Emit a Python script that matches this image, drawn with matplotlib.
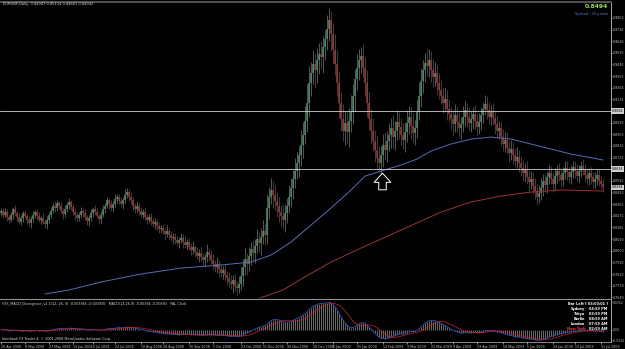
import numpy as np
import pandas as pd
import matplotlib
matplotlib.use("Agg")
import matplotlib.pyplot as plt
from matplotlib.path import Path

# EURGBP daily (approx.)
first_open = 0.8290
closes = [
    0.8310, 0.8280, 0.8300, 0.8260, 0.8240, 0.8275, 0.8320, 0.8295, 0.8265, 0.8225,
    0.8250, 0.8290, 0.8270, 0.8235, 0.8215, 0.8245, 0.8280, 0.8300, 0.8270, 0.8240,
    0.8255, 0.8225, 0.8205, 0.8240, 0.8280, 0.8310, 0.8345, 0.8330, 0.8370, 0.8350,
    0.8310, 0.8285, 0.8320, 0.8355, 0.8380, 0.8340, 0.8300, 0.8275, 0.8250, 0.8280,
    0.8310, 0.8290, 0.8260, 0.8230, 0.8255, 0.8290, 0.8325, 0.8300, 0.8270, 0.8245,
    0.8280, 0.8320, 0.8350, 0.8390, 0.8365, 0.8330, 0.8360, 0.8400, 0.8420, 0.8385,
    0.8360, 0.8395, 0.8430, 0.8455, 0.8420, 0.8390, 0.8350, 0.8320, 0.8345, 0.8310,
    0.8280, 0.8300, 0.8265, 0.8240, 0.8260,
    0.8230, 0.8205, 0.8225, 0.8190, 0.8165, 0.8180, 0.8150, 0.8130, 0.8155, 0.8120,
    0.8095, 0.8110, 0.8080, 0.8060, 0.8085,
    0.8100, 0.8070, 0.8045, 0.8065, 0.8030, 0.8005, 0.8025, 0.7990, 0.7960, 0.7985,
    0.7950, 0.7925, 0.7950, 0.7990, 0.7965,
    0.7930, 0.7900, 0.7870, 0.7895, 0.7860, 0.7830, 0.7850, 0.7815, 0.7790, 0.7760,
    0.7740, 0.7770, 0.7730, 0.7710, 0.7745,
    0.7800, 0.7870, 0.7935, 0.7900, 0.7960, 0.8010, 0.7985, 0.8040, 0.8090, 0.8060,
    0.8110, 0.8150, 0.8120, 0.8330, 0.8420,
    0.8470, 0.8430, 0.8385, 0.8350, 0.8300, 0.8270, 0.8240, 0.8290, 0.8350, 0.8420,
    0.8490, 0.8560, 0.8620, 0.8680, 0.8740,
    0.8820, 0.8900, 0.9010, 0.9150, 0.9300, 0.9380, 0.9450, 0.9400, 0.9480, 0.9530,
    0.9500, 0.9580, 0.9640, 0.9720, 0.9790,
    0.9680, 0.9560, 0.9450, 0.9300, 0.9150, 0.9020, 0.8930, 0.8990, 0.8920, 0.9010,
    0.9080, 0.9200, 0.9330, 0.9420, 0.9480,
    0.9510, 0.9420, 0.9300, 0.9150, 0.9020, 0.8930, 0.8850, 0.8780, 0.8720, 0.8680,
    0.8740, 0.8820, 0.8780, 0.8850, 0.8900,
    0.8950, 0.8880, 0.8930, 0.9000, 0.8960, 0.8900, 0.8860, 0.8920, 0.8990, 0.9040,
    0.8970, 0.8910, 0.8950, 0.9080, 0.9200,
    0.9320, 0.9400, 0.9460, 0.9430, 0.9480, 0.9400, 0.9350, 0.9380, 0.9300, 0.9250,
    0.9200, 0.9150, 0.9180, 0.9100, 0.9060,
    0.9020, 0.8980, 0.9050, 0.9000, 0.8950, 0.8980, 0.9040, 0.9090, 0.9040, 0.8990,
    0.9020, 0.9060, 0.9010, 0.8960, 0.9000,
    0.9050, 0.9100, 0.9140, 0.9090, 0.9040, 0.9080, 0.9030, 0.8980, 0.8930, 0.8950,
    0.8880, 0.8830, 0.8860, 0.8800, 0.8760,
    0.8790, 0.8740, 0.8700, 0.8730, 0.8680, 0.8640, 0.8600, 0.8630, 0.8570, 0.8530,
    0.8560, 0.8500, 0.8460, 0.8420, 0.8450,
    0.8490, 0.8540, 0.8510, 0.8570, 0.8600, 0.8560, 0.8520, 0.8580, 0.8620, 0.8590,
    0.8550, 0.8600, 0.8640, 0.8610, 0.8570,
    0.8610, 0.8650, 0.8620, 0.8580, 0.8620, 0.8660, 0.8630, 0.8590, 0.8560, 0.8600,
    0.8570, 0.8530, 0.8560, 0.8590, 0.8540, 0.8520, 0.8494,
]

# wick length above/below the body, in pips
wick_up = [
    25, 18, 30, 22, 15, 28, 20, 35, 17, 24, 30, 19, 26, 14, 32, 21, 27, 18, 23, 29,
    16, 34, 22, 27, 19, 31, 24, 38, 21, 17, 29, 25, 33, 20, 28, 15, 26, 30, 22, 19,
    27, 21, 35, 18, 24, 30, 16, 28, 33, 20, 25, 38, 22, 29, 17, 31, 26, 40, 23, 19,
    30, 24, 45, 28, 20, 33, 26, 18, 37, 22, 29, 25, 31, 19, 27, 34, 21, 28, 24, 36,
    22, 30, 26, 41, 19, 33, 27, 24, 38, 21, 35, 29, 44, 25, 32, 28, 50, 23, 37, 30,
    45, 34, 28, 60, 31, 38, 42, 29, 55, 36, 40, 33, 48, 30, 44, 52, 38, 46, 35, 58,
    70, 62, 85, 50, 66, 58, 74, 48, 80, 55, 64, 90, 60, 110, 75, 95, 68, 80, 72, 65,
    58, 84, 70, 62, 90, 78, 66, 100, 85, 72, 120, 95, 110, 140, 130, 88, 105, 76, 92, 80,
    98, 86, 74, 110, 95, 70, 88, 120, 105, 92, 80, 115, 96, 84, 100, 125, 90, 78, 108, 86,
    72, 94, 80, 105, 88, 76, 98, 84, 110, 92, 70, 86, 100, 78, 94, 82, 105, 74, 90, 80,
    68, 92, 78, 100, 84, 72, 95, 66, 88, 110, 96, 80, 74, 102, 86, 70, 90, 82, 64, 78,
    72, 60, 84, 66, 78, 58, 70, 86, 62, 74, 56, 80, 68, 60, 76, 64, 52, 70, 58, 66,
    62, 54, 72, 58, 66, 50, 64, 56, 70, 60, 52, 68, 58, 62, 48, 66, 56, 60, 72, 54,
    58, 64, 50, 70, 56, 62, 48, 66, 54, 60, 72, 52, 58, 46, 64, 56, 50, 62, 44, 58,
    52, 46, 60, 54, 42, 58, 50, 44, 56, 48, 40, 54, 46, 52, 38, 50, 44, 48, 42, 46,
    40, 36,
]
wick_dn = [
    20, 27, 16, 31, 24, 18, 29, 22, 34, 19, 25, 30, 17, 28, 23, 35, 19, 26, 31, 21,
    30, 18, 26, 35, 22, 28, 17, 32, 25, 29, 20, 37, 23, 18, 30, 27, 21, 34, 24, 16,
    23, 32, 19, 28, 36, 21, 30, 25, 18, 34, 27, 22, 31, 17, 38, 24, 29, 20, 33, 26,
    21, 35, 27, 19, 31, 24, 40, 28, 22, 33, 18, 30, 26, 36, 23, 29, 20, 34, 27, 25,
    31, 24, 38, 26, 33, 20, 42, 29, 25, 36, 28, 47, 27, 34, 22, 40, 30, 35, 26, 48,
    33, 40, 52, 36, 45, 30, 50, 38, 44, 62, 35, 48, 40, 56, 42, 38, 65, 44, 50, 40,
    48, 75, 60, 88, 54, 70, 62, 80, 58, 68, 92, 56, 74, 65, 85, 60, 100, 72, 90, 78,
    86, 68, 94, 76, 60, 82, 90, 72, 64, 110, 80, 98, 70, 88, 115, 100, 84, 130, 96, 108,
    90, 118, 102, 84, 96, 130, 110, 88, 100, 122, 94, 80, 106, 92, 118, 86, 100, 112, 84, 96,
    104, 82, 96, 110, 86, 100, 78, 92, 84, 70, 98, 88, 76, 94, 80, 102, 86, 96, 74, 90,
    82, 70, 96, 80, 88, 104, 74, 92, 78, 66, 84, 100, 90, 72, 80, 94, 76, 68, 88, 74,
    60, 78, 66, 84, 58, 72, 80, 62, 76, 68, 82, 58, 70, 78, 56, 68, 74, 62, 70, 54,
    66, 58, 50, 68, 56, 62, 54, 72, 52, 64, 70, 56, 62, 50, 68, 58, 64, 52, 60, 70,
    54, 60, 66, 52, 64, 50, 62, 56, 68, 48, 58, 64, 52, 60, 54, 46, 62, 50, 58, 48,
    56, 50, 44, 58, 48, 54, 46, 52, 42, 56, 50, 44, 54, 40, 48, 52, 42, 46, 50, 38,
    44, 40,
]

# the two moving averages on the chart (bar index, price)
ma_blue_bar = [22, 34, 50, 70, 90, 110, 125, 135, 145, 155, 165, 175, 182, 190,
               200, 208, 215, 225, 235, 245, 255, 265, 275, 285, 301]
ma_blue = [0.7664, 0.7695, 0.7757, 0.7819, 0.7865, 0.7889, 0.7912, 0.7966, 0.8067,
           0.8199, 0.8331, 0.8471, 0.8579, 0.8618, 0.8665, 0.8711, 0.8773, 0.8828,
           0.8866, 0.8882, 0.8866, 0.8828, 0.8789, 0.8750, 0.8704]
ma_red_bar = [128, 141, 150, 165, 180, 200, 220, 235, 250, 265, 280, 301]
ma_red = [0.7625, 0.7695, 0.7780, 0.7912, 0.8021, 0.8160, 0.8300, 0.8378,
          0.8424, 0.8455, 0.8471, 0.8463]

hlines = [0.9084, 0.8634]
last_price = 0.8494
arrow_bar = 190.5
arrow_price = 0.8541

price_ticks = [0.7640, 0.7729, 0.7819, 0.7910, 0.8000, 0.8090, 0.8181, 0.8271,
               0.8361, 0.8452, 0.8542, 0.8632, 0.8722, 0.8813, 0.8903, 0.8993,
               0.9084, 0.9174, 0.9264, 0.9355, 0.9445, 0.9535, 0.9626, 0.9716, 0.9806]

date_bars = [0, 12, 24, 36, 46, 57, 70, 81, 94, 106, 120, 131, 143, 156, 166,
             178, 191, 203, 215, 226, 238, 251, 263, 276, 287, 300]
date_labels = ["20 Apr 2008", "8 May 2008", "27 May 2008", "13 Jun 2008", "2 Jul 2008",
               "22 Jul 2008", "10 Aug 2008", "28 Aug 2008", "16 Sep 2008", "5 Oct 2008",
               "23 Oct 2008", "11 Nov 2008", "30 Nov 2008", "18 Dec 2008", "6 Jan 2009",
               "25 Jan 2009", "12 Feb 2009", "3 Mar 2009", "22 Mar 2009", "9 Apr 2009",
               "29 Apr 2009", "18 May 2009", "5 Jun 2009", "24 Jun 2009", "13 Jul 2009",
               "31 Jul 2009"]

clock_names = ["Sydney", "Tokyo", "Berlin", "London", "New York"]
clock_times = ["04:59 PM", "03:59 PM", "08:59 AM", "07:59 AM", "02:59 AM"]

closes = np.array(closes)
opens = np.concatenate([[first_open], closes[:-1]])
highs = np.maximum(opens, closes) + np.array(wick_up) * 0.0001
lows = np.minimum(opens, closes) - np.array(wick_dn) * 0.0001
bars = np.arange(len(closes))

s = pd.Series(closes)
macd = (s.ewm(span=12, adjust=False).mean() - s.ewm(span=26, adjust=False).mean()).values
signal = pd.Series(macd).rolling(9, min_periods=1).mean().values

W, H = 625, 349
def fx(x):
    return x / W
def fy(y):
    return 1 - y / H

fig = plt.figure(figsize=(6.25, 3.49), dpi=100, facecolor="black")
ax = fig.add_axes([0, fy(298), fx(611), fy(2) - fy(298)], facecolor="black")
sub = fig.add_axes([0, fy(342), fx(611), fy(299) - fy(342)], facecolor="black", sharex=ax)

grey = "#c0c0c0"
bull = "#4a9468"
bear = "#a83636"

up = closes >= opens
dn = ~up
ax.vlines(bars[up], lows[up], highs[up], color=bull, lw=0.5)
ax.vlines(bars[up], opens[up], closes[up], color=bull, lw=1.1)
ax.vlines(bars[dn], lows[dn], highs[dn], color=bear, lw=0.5)
ax.vlines(bars[dn], opens[dn], closes[dn], color=bear, lw=1.1)

ax.plot(ma_blue_bar, ma_blue, color="#5a6cb4", lw=0.7)
ax.plot(ma_red_bar, ma_red, color="#a03232", lw=0.7)

for h in hlines:
    ax.axhline(h, color="#d0d0d0", lw=0.6)

# hollow up arrow object
arrow = Path([(0, 1), (1, -0.1), (0.45, -0.1), (0.45, -1), (-0.45, -1),
              (-0.45, -0.1), (-1, -0.1), (0, 1)])
ax.plot([arrow_bar], [arrow_price], marker=arrow, markersize=12,
        markerfacecolor="black", markeredgecolor="white", markeredgewidth=0.7)

ax.set_xlim(-0.5, 305)
ax.set_ylim(0.7633, 0.9930)
ax.yaxis.tick_right()
ax.set_yticks(price_ticks)
# labels hidden under the highlighted boxes are left empty
boxed = hlines + [last_price]
ax.set_yticklabels(["" if min(abs(t - b) for b in boxed) < 0.0005 else f"{t:.4f}"
                    for t in price_ticks])
ax.tick_params(axis="y", colors=grey, labelsize=2.3, length=1, width=0.5, pad=0.5)
ax.tick_params(axis="x", bottom=False, labelbottom=False)
for side in ["left", "bottom"]:
    ax.spines[side].set_visible(False)
ax.spines["right"].set_color(grey)
ax.spines["right"].set_linewidth(0.6)
ax.spines["top"].set_color("#505050")
ax.spines["top"].set_linewidth(1.5)

trans = ax.get_yaxis_transform()
for v in boxed:
    ax.text(1.001, v, f"{v:.4f}", transform=trans, fontsize=2.3, color="black",
            va="center", ha="left", clip_on=False,
            bbox=dict(facecolor="#d0d0d0", edgecolor="none", pad=0.4))

# MACD window
sub.vlines(bars, 0, macd, color="#7d9bd0", lw=0.5)
sub.plot(bars, macd, color="#3050b8", lw=0.6)
sub.plot(bars, signal, color="#d02020", lw=0.5)
top = macd.max() * 1.12
bottom = min(macd.min() * 1.15, -0.4 * top)
sub.set_ylim(bottom, top)
sub.yaxis.tick_right()
sub.set_yticks([macd.max(), 0, macd.min()])
sub.set_yticklabels([f"{macd.max():.4f}", "0.00", f"{macd.min():.4f}"])
sub.tick_params(axis="y", colors=grey, labelsize=2.2, length=1, width=0.5, pad=0.5)
sub.set_xticks(date_bars)
sub.set_xticklabels(date_labels)
sub.tick_params(axis="x", colors=grey, labelsize=2.3, length=1.5, width=0.5, pad=0.5)
for lab in sub.get_xticklabels():
    lab.set_horizontalalignment("left")
sub.spines["left"].set_visible(False)
sub.spines["right"].set_color(grey)
sub.spines["right"].set_linewidth(0.6)
sub.spines["top"].set_color("#909090")
sub.spines["top"].set_linewidth(0.8)
sub.spines["bottom"].set_color(grey)
sub.spines["bottom"].set_linewidth(0.5)

# texts
fig.text(fx(3), fy(4.5), "EURGBP,Daily  0.84947 0.85114 0.84687 0.84942",
         fontsize=2.6, color="#d8d8d8", va="center")
fig.text(fx(608), fy(6.5), f"{last_price:.4f}", fontsize=4.3, color="#88f030",
         fontweight="bold", ha="right", va="center")
fig.text(fx(608), fy(13.5), "Spread : 32 points", fontsize=2.6, color="#5a7ccc",
         ha="right", va="center")
fig.text(fx(2), fy(304), "FXS_MACD_Divergence_v1.1(12, 26, 9) -0.003945 -0.003930   "
         "MACD(12,26,9) -0.00394 -0.00393   PAL Clock",
         fontsize=2.4, color="#d8d8d8", va="center")
fig.text(fx(2), fy(339), "Interbank FX Trader 4, \u00a9 2001-2008 MetaQuotes Software Corp.",
         fontsize=2.4, color="#d8d8d8", va="center")
fig.text(fx(608), fy(304), "Bar Left [ 03:00:01 ]", fontsize=2.5, color="white",
         fontweight="bold", ha="right", va="center")
for i, (n, t) in enumerate(zip(clock_names, clock_times)):
    y = 309 + 5 * i
    c = "#ff3030" if n == "New York" else "white"
    fig.text(fx(585), fy(y), n, fontsize=2.5, color=c, fontweight="bold",
             ha="right", va="center")
    fig.text(fx(589), fy(y), t, fontsize=2.5, color="white", fontweight="bold",
             ha="left", va="center")

fig.savefig("out.png", dpi=100, facecolor="black")
